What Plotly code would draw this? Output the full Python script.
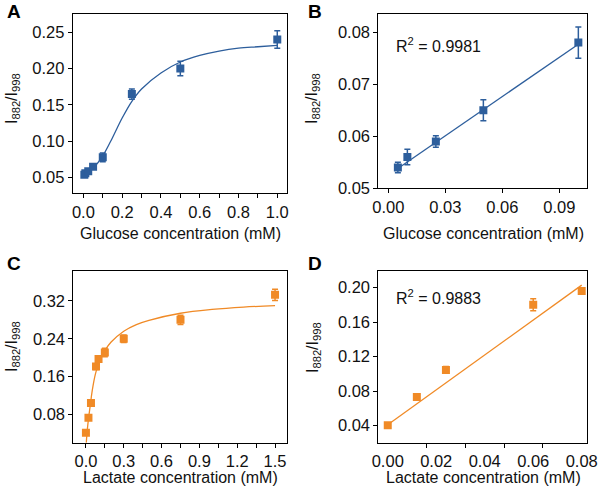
import plotly.graph_objects as go
from plotly.subplots import make_subplots

BLUE = "#2D5E9C"
ORANGE = "#F08A26"
FONT = "Liberation Sans, Arial, sans-serif"

# Panel A/B: glucose
glu_x = [0.005, 0.01, 0.025, 0.05, 0.1, 0.25, 0.5, 1.0]
glu_y = [0.054, 0.056, 0.059, 0.065, 0.078, 0.165, 0.200, 0.240]
glu_err = [0.002, 0.002, 0.002, 0.003, 0.006, 0.007, 0.010, 0.012]
glu_fit_x = [0.005, 0.05, 0.1, 0.15, 0.2, 0.25, 0.3, 0.4, 0.5, 0.6, 0.7, 0.8, 0.9, 1.0]
glu_fit_y = [0.054, 0.063, 0.080, 0.105, 0.132, 0.155, 0.172, 0.194, 0.209, 0.218, 0.224, 0.228, 0.230, 0.232]

glu_lin_x = [0.005, 0.01, 0.025, 0.05, 0.1]
glu_lin_y = [0.054, 0.056, 0.059, 0.065, 0.078]
glu_lin_err = [0.001, 0.0015, 0.0011, 0.002, 0.003]
glu_line_x = [0.005, 0.1]
glu_line_y = [0.0538, 0.0777]

# Panel C/D: lactate
lac_x = [0.0, 0.02, 0.04, 0.08, 0.1, 0.15, 0.3, 0.75, 1.5]
lac_y = [0.041, 0.073, 0.104, 0.181, 0.197, 0.211, 0.240, 0.280, 0.333]
lac_err = [0.003, 0.003, 0.004, 0.006, 0.004, 0.009, 0.008, 0.010, 0.012]
lac_fit_x = [0.003, 0.01, 0.02, 0.035, 0.05, 0.075, 0.1, 0.15, 0.2, 0.3, 0.4, 0.5, 0.75, 1.0, 1.25, 1.5]
lac_fit_y = [0.02, 0.045, 0.07, 0.10, 0.13, 0.165, 0.187, 0.215, 0.233, 0.256, 0.270, 0.279, 0.294, 0.302, 0.307, 0.310]

lac_lin_x = [0.0, 0.012, 0.024, 0.06, 0.08]
lac_lin_y = [0.0406, 0.0733, 0.1047, 0.1803, 0.1962]
lac_lin_err = [0.002, 0.003, 0.004, 0.007, 0.003]
lac_line_x = [0.0, 0.08]
lac_line_y = [0.041, 0.203]

fig = make_subplots(rows=2, cols=2)


def add_panel(row, col, x, y, err, lx, ly, color, shape="spline"):
    fig.add_trace(go.Scatter(
        x=lx, y=ly, mode="lines", line=dict(color=color, width=1.3, shape=shape),
        hoverinfo="skip", showlegend=False), row=row, col=col)
    fig.add_trace(go.Scatter(
        x=x, y=y, mode="markers",
        marker=dict(symbol="square", size=8, color=color),
        error_y=dict(type="data", array=err, color=color, thickness=1.5, width=3),
        showlegend=False), row=row, col=col)


add_panel(1, 1, glu_x, glu_y, glu_err, glu_fit_x, glu_fit_y, BLUE)
add_panel(1, 2, glu_lin_x, glu_lin_y, glu_lin_err, glu_line_x, glu_line_y, BLUE, "linear")
add_panel(2, 1, lac_x, lac_y, lac_err, lac_fit_x, lac_fit_y, ORANGE)
add_panel(2, 2, lac_lin_x, lac_lin_y, lac_lin_err, lac_line_x, lac_line_y, ORANGE, "linear")

axis_style = dict(showline=True, linecolor="black", linewidth=1, mirror=True,
                  showgrid=False, zeroline=False, ticks="outside", ticklen=4,
                  tickcolor="black", automargin=False,
                  tickfont=dict(family=FONT, size=16.5, color="#111"))

fig.update_xaxes(**axis_style)
fig.update_yaxes(**axis_style)

minor = dict(ticks="outside", ticklen=4, tickcolor="black", tick0=0)

# domains (paper coords)
fig.update_layout(
    xaxis=dict(domain=[0.1212, 0.4783], range=[-0.055, 1.05], tick0=0, dtick=0.2,
               tickformat=".1f", minor=dict(dtick=0.1, **minor)),
    yaxis=dict(domain=[0.6109, 0.9718], range=[0.029, 0.275], tick0=0.05, dtick=0.05, tickformat=".2f"),
    xaxis2=dict(domain=[0.6305, 0.9788], range=[-0.0053, 0.1047], tick0=0, dtick=0.03, tickformat=".2f"),
    yaxis2=dict(domain=[0.6204, 0.9718], range=[0.05, 0.0835], tick0=0.05, dtick=0.01, tickformat=".2f"),
    xaxis3=dict(domain=[0.1222, 0.4788], range=[-0.1, 1.597], tick0=0, dtick=0.3,
                tickformat=".1f", minor=dict(dtick=0.15, **minor)),
    yaxis3=dict(domain=[0.1075, 0.4542], range=[0.02, 0.384], tick0=0, dtick=0.08, tickformat=".2f"),
    xaxis4=dict(domain=[0.6305, 0.9788], range=[-0.0039, 0.0823], tick0=0, dtick=0.02,
                tickformat=".2f", tickcolor="rgba(0,0,0,0)", minor=dict(dtick=0.016, **minor)),
    yaxis4=dict(domain=[0.1075, 0.4542], range=[0.0203, 0.2197], tick0=0, dtick=0.04, tickformat=".2f"),
)

ann = []
title_font = dict(family=FONT, size=16, color="#111")
ytitle = "I<sub>882</sub>/I<sub>998</sub>"
# x titles
for xc, yp, txt in [(180, 233, "Glucose concentration (mM)"),
                    (483, 233, "Glucose concentration (mM)"),
                    (180, 477, "Lactate concentration (mM)"),
                    (483, 477, "Lactate concentration (mM)")]:
    ann.append(dict(x=xc / 600, y=1 - yp / 496, xref="paper", yref="paper", text=txt,
                    showarrow=False, font=title_font, xanchor="center", yanchor="middle"))
# y titles
for xc, yp in [(12, 99), (313, 98), (12, 347), (313, 347)]:
    ann.append(dict(x=xc / 600, y=1 - yp / 496, xref="paper", yref="paper", text=ytitle,
                    showarrow=False, font=title_font, textangle=-90,
                    xanchor="center", yanchor="middle"))
# panel letters
for xc, yp, lab in [(5, 11, "A"), (306, 11, "B"), (5, 263, "C"), (306, 263, "D")]:
    ann.append(dict(x=xc / 600, y=1 - yp / 496, xref="paper", yref="paper", text="<b>%s</b>" % lab,
                    showarrow=False, font=dict(family=FONT, size=19, color="black"),
                    xanchor="left", yanchor="middle"))
# R^2 labels
for xc, yp, txt in [(394, 45, "R<sup>2</sup> = 0.9981"), (394, 297, "R<sup>2</sup> = 0.9883")]:
    ann.append(dict(x=xc / 600, y=1 - yp / 496, xref="paper", yref="paper", text=txt,
                    showarrow=False, font=dict(family=FONT, size=16, color="#111"),
                    xanchor="left", yanchor="middle"))

fig.update_layout(
    width=600, height=496, autosize=False,
    margin=dict(l=0, r=0, t=0, b=0, autoexpand=False),
    plot_bgcolor="white", paper_bgcolor="white",
    annotations=ann,
    showlegend=False,
)

# the page body has a default 8px margin; drop it so the figure sits at 0,0
fig.write_html("out.html", config={"displayModeBar": False},
               post_script="document.body.style.margin='0px';")
